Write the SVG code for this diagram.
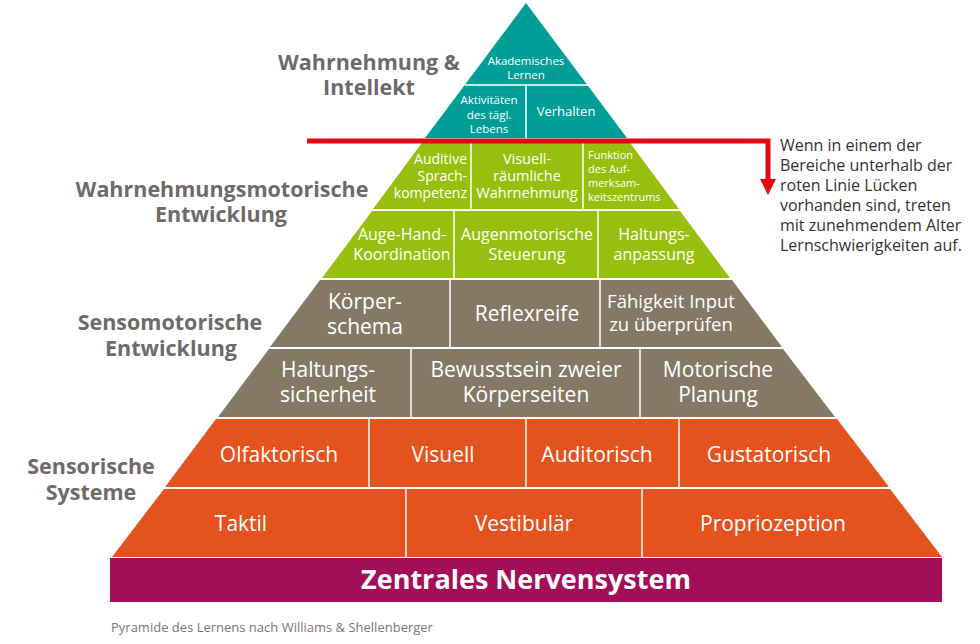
<svg xmlns="http://www.w3.org/2000/svg" width="980" height="644" viewBox="0 0 980 644">
<defs>
<style>
text{font-family:"Open Sans","Liberation Sans",sans-serif}
.c{fill:#fff;text-anchor:middle}
.lab{fill:#6e6a6a;font-weight:bold;font-size:21.5px;text-anchor:middle}
.d{stroke:#fff;stroke-width:1.5}
</style>
<marker id="ah" markerWidth="18" markerHeight="16" refX="4" refY="8" orient="auto" markerUnits="userSpaceOnUse"><path d="M0,0 L16,8 L0,16Z" fill="#e30613"/></marker>
</defs>
<rect width="980" height="644" fill="#fff"/>
<g id="teal">
<polygon points="526,3 627,138 425,138" fill="#009e96"/>
<line class="d" x1="465" y1="85" x2="588" y2="85"/>
<line class="d" x1="526" y1="85" x2="526" y2="138"/>
<text class="c" font-size="11.5"><tspan x="526" y="65">Akademisches</tspan><tspan x="526" y="79">Lernen</tspan></text>
<text class="c" font-size="11.5"><tspan x="489" y="104">Aktivitäten</tspan><tspan x="489" y="119">des tägl.</tspan><tspan x="489" y="133">Lebens</tspan></text>
<text class="c" font-size="13" x="566" y="116">Verhalten</text>
</g>
<g id="green">
<polygon points="424,140 628,140 679,209 373,209" fill="#97bf0d"/>
<polygon points="372,211 680,211 730,278 322,278" fill="#97bf0d"/>
<line class="d" x1="471" y1="140" x2="471" y2="209"/>
<line class="d" x1="583" y1="140" x2="583" y2="209"/>
<line class="d" x1="454" y1="211" x2="454" y2="278"/>
<line class="d" x1="598" y1="211" x2="598" y2="278"/>
<text font-size="14" fill="#fff" style="text-anchor:end"><tspan x="467" y="164">Auditive</tspan><tspan x="467" y="181">Sprach-</tspan><tspan x="467" y="198">kompetenz</tspan></text>
<text class="c" font-size="14.5"><tspan x="527" y="164">Visuell-</tspan><tspan x="527" y="181">räumliche</tspan><tspan x="527" y="198">Wahrnehmung</tspan></text>
<text font-size="11" fill="#fff"><tspan x="588" y="159">Funktion</tspan><tspan x="588" y="173">des Auf-</tspan><tspan x="588" y="187">merksam-</tspan><tspan x="588" y="201">keitszentrums</tspan></text>
<text class="c" font-size="16"><tspan x="402" y="240">Auge-Hand-</tspan><tspan x="402" y="260">Koordination</tspan></text>
<text class="c" font-size="16"><tspan x="527" y="240">Augenmotorische</tspan><tspan x="527" y="260">Steuerung</tspan></text>
<text class="c" font-size="16"><tspan x="654" y="240">Haltungs-</tspan><tspan x="654" y="260">anpassung</tspan></text>
</g>
<g id="brown">
<polygon points="320,280 732,280 782,347 270,347" fill="#857966"/>
<polygon points="269,349 783,349 835,417 218,417" fill="#857966"/>
<line class="d" x1="450" y1="280" x2="450" y2="347"/>
<line class="d" x1="600" y1="280" x2="600" y2="347"/>
<line class="d" x1="411" y1="349" x2="411" y2="417"/>
<line class="d" x1="640" y1="349" x2="640" y2="417"/>
<text class="c" font-size="21"><tspan x="365" y="309">Körper-</tspan><tspan x="365" y="334">schema</tspan></text>
<text class="c" font-size="21" x="527" y="321">Reflexreife</text>
<text class="c" font-size="18.5"><tspan x="671" y="308">Fähigkeit Input</tspan><tspan x="671" y="331">zu überprüfen</tspan></text>
<text class="c" font-size="21"><tspan x="328" y="377">Haltungs-</tspan><tspan x="328" y="402">sicherheit</tspan></text>
<text class="c" font-size="21"><tspan x="526" y="377">Bewusstsein zweier</tspan><tspan x="526" y="402">Körperseiten</tspan></text>
<text class="c" font-size="21"><tspan x="718" y="377">Motorische</tspan><tspan x="718" y="402">Planung</tspan></text>
</g>
<g id="orange">
<polygon points="216,419 837,419 889,487 165,487" fill="#e4521e"/>
<polygon points="164,489 890,489 942,557 112,557" fill="#e4521e"/>
<line class="d" x1="369" y1="419" x2="369" y2="487"/>
<line class="d" x1="526" y1="419" x2="526" y2="487"/>
<line class="d" x1="679" y1="419" x2="679" y2="487"/>
<line class="d" x1="406" y1="489" x2="406" y2="557"/>
<line class="d" x1="642" y1="489" x2="642" y2="557"/>
<text class="c" font-size="21" x="279" y="462">Olfaktorisch</text>
<text class="c" font-size="21" x="443" y="462">Visuell</text>
<text class="c" font-size="21" x="597" y="462">Auditorisch</text>
<text class="c" font-size="21" x="769" y="462">Gustatorisch</text>
<text class="c" font-size="21" x="241" y="531">Taktil</text>
<text class="c" font-size="21" x="524" y="531">Vestibulär</text>
<text class="c" font-size="21" x="773" y="531">Propriozeption</text>
</g>
<g id="base">
<rect x="110" y="558" width="832" height="44" fill="#a20f56"/>
<text class="c" font-size="27" font-weight="bold" x="526" y="589">Zentrales Nervensystem</text>
</g>
<g id="labels">
<text class="lab"><tspan x="369" y="70">Wahrnehmung &amp;</tspan><tspan x="369" y="95">Intellekt</tspan></text>
<text class="lab"><tspan x="222" y="197">Wahrnehmungsmotorische</tspan><tspan x="221" y="222">Entwicklung</tspan></text>
<text class="lab"><tspan x="170" y="330">Sensomotorische</tspan><tspan x="171" y="356">Entwicklung</tspan></text>
<text class="lab"><tspan x="91" y="474">Sensorische</tspan><tspan x="91" y="500">Systeme</tspan></text>
<text font-size="16" fill="#333"><tspan x="780" y="151">Wenn in einem der</tspan><tspan x="780" y="171">Bereiche unterhalb der</tspan><tspan x="780" y="191">roten Linie Lücken</tspan><tspan x="780" y="211">vorhanden sind, treten</tspan><tspan x="780" y="231">mit zunehmendem Alter</tspan><tspan x="780" y="251">Lernschwierigkeiten auf.</tspan></text>
<text font-size="13" fill="#777" x="111" y="632">Pyramide des Lernens nach Williams &amp; Shellenberger</text>
</g>
<g id="connectors">
<polyline points="307,141 768,141 768,183" fill="none" stroke="#e30613" stroke-width="5" marker-end="url(#ah)"/>
</g>
</svg>
